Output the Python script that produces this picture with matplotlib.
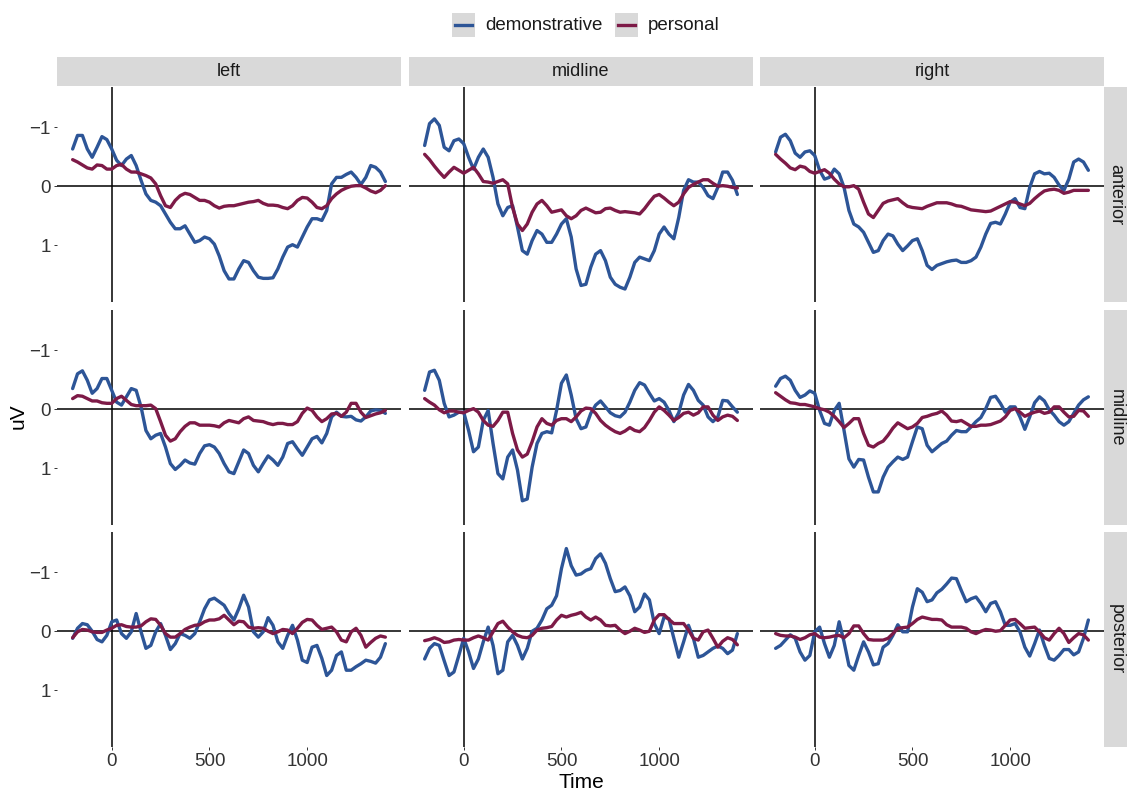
import matplotlib.pyplot as plt
import numpy as np
from matplotlib.patches import Rectangle
from matplotlib.lines import Line2D

plt.rcParams['font.family'] = ['Liberation Sans', 'DejaVu Sans']

# sample times (ms) shared by every waveform
time = np.arange(-200, 1425, 25)

sites = ['left', 'midline', 'right']
regions = ['anterior', 'midline', 'posterior']
conditions = ['demonstrative', 'personal']

# ---- waveforms (uV), one list per site x region x condition ----
dem_left_anterior = [
    -0.63, -0.86, -0.86, -0.63, -0.49, -0.66, -0.84, -0.79, -0.63, -0.44, -0.35, -0.46, -0.52,
    -0.35, -0.10, 0.13, 0.24, 0.27, 0.33, 0.47, 0.61, 0.72, 0.72, 0.67, 0.81, 0.95,
    0.92, 0.86, 0.89, 0.98, 1.18, 1.43, 1.57, 1.57, 1.40, 1.26, 1.29, 1.43, 1.54,
    1.56, 1.56, 1.55, 1.40, 1.20, 1.03, 0.99, 1.03, 0.86, 0.69, 0.55, 0.55, 0.58,
    0.41, -0.04, -0.15, -0.15, -0.20, -0.24, -0.15, -0.03, -0.15, -0.35, -0.32, -0.24, -0.08]
per_left_anterior = [
    -0.45, -0.41, -0.36, -0.31, -0.29, -0.36, -0.35, -0.29, -0.29, -0.35, -0.37, -0.29, -0.24,
    -0.24, -0.21, -0.18, -0.14, -0.04, 0.16, 0.33, 0.36, 0.24, 0.16, 0.12, 0.14, 0.19,
    0.24, 0.24, 0.27, 0.33, 0.37, 0.34, 0.33, 0.33, 0.31, 0.29, 0.27, 0.26, 0.24,
    0.29, 0.32, 0.32, 0.33, 0.36, 0.38, 0.33, 0.24, 0.19, 0.20, 0.27, 0.36, 0.38,
    0.33, 0.21, 0.13, 0.07, 0.03, 0.00, -0.01, -0.01, 0.03, 0.08, 0.11, 0.07, -0.01]

dem_midline_anterior = [
    -0.69, -1.06, -1.14, -1.03, -0.66, -0.60, -0.77, -0.80, -0.72, -0.49, -0.29, -0.49, -0.63,
    -0.49, -0.15, 0.30, 0.50, 0.36, 0.33, 0.69, 1.09, 1.15, 0.92, 0.75, 0.81, 0.95,
    0.95, 0.81, 0.64, 0.55, 0.86, 1.40, 1.68, 1.66, 1.37, 1.15, 1.09, 1.26, 1.54,
    1.66, 1.71, 1.74, 1.54, 1.29, 1.20, 1.23, 1.26, 1.09, 0.81, 0.69, 0.81, 0.89,
    0.53, 0.07, -0.11, -0.07, -0.07, 0.02, 0.16, 0.21, 0.02, -0.24, -0.24, -0.10, 0.14]
per_midline_anterior = [
    -0.54, -0.45, -0.34, -0.24, -0.15, -0.24, -0.32, -0.27, -0.22, -0.27, -0.32, -0.21, -0.08,
    -0.07, -0.05, -0.08, -0.11, -0.04, 0.36, 0.64, 0.75, 0.64, 0.44, 0.30, 0.24, 0.33,
    0.44, 0.42, 0.40, 0.50, 0.55, 0.50, 0.41, 0.37, 0.41, 0.45, 0.44, 0.38, 0.37,
    0.41, 0.44, 0.43, 0.44, 0.45, 0.47, 0.38, 0.27, 0.17, 0.14, 0.20, 0.27, 0.33,
    0.27, 0.13, 0.02, -0.03, -0.07, -0.11, -0.11, -0.05, 0.00, -0.01, 0.00, 0.02, 0.03]

dem_right_anterior = [
    -0.58, -0.83, -0.88, -0.77, -0.56, -0.49, -0.58, -0.60, -0.52, -0.27, -0.12, -0.15, -0.29,
    -0.21, 0.02, 0.41, 0.64, 0.69, 0.78, 0.95, 1.12, 1.09, 0.92, 0.81, 0.84, 0.98,
    1.09, 1.01, 0.92, 0.89, 1.09, 1.34, 1.41, 1.34, 1.31, 1.28, 1.26, 1.25, 1.29,
    1.29, 1.26, 1.20, 1.03, 0.81, 0.63, 0.61, 0.64, 0.47, 0.27, 0.21, 0.36, 0.38,
    0.02, -0.21, -0.25, -0.21, -0.22, -0.15, -0.02, 0.07, -0.12, -0.41, -0.46, -0.41, -0.27]
per_right_anterior = [
    -0.54, -0.46, -0.39, -0.31, -0.28, -0.34, -0.32, -0.25, -0.22, -0.25, -0.28, -0.22, -0.12,
    -0.04, 0.01, 0.01, -0.01, 0.05, 0.27, 0.47, 0.53, 0.41, 0.29, 0.25, 0.23, 0.21,
    0.28, 0.34, 0.36, 0.37, 0.38, 0.34, 0.31, 0.28, 0.28, 0.28, 0.30, 0.33, 0.34,
    0.37, 0.40, 0.41, 0.42, 0.43, 0.42, 0.38, 0.34, 0.30, 0.26, 0.27, 0.30, 0.33,
    0.29, 0.21, 0.14, 0.08, 0.06, 0.05, 0.07, 0.12, 0.10, 0.07, 0.07, 0.07, 0.07]

dem_left_midline = [
    -0.35, -0.60, -0.65, -0.49, -0.27, -0.35, -0.52, -0.52, -0.32, -0.12, -0.07, -0.21, -0.35,
    -0.32, -0.04, 0.36, 0.50, 0.44, 0.41, 0.64, 0.92, 1.02, 0.95, 0.86, 0.91, 0.93,
    0.75, 0.62, 0.60, 0.64, 0.75, 0.92, 1.06, 1.09, 0.89, 0.69, 0.75, 0.95, 1.06,
    0.92, 0.79, 0.86, 0.95, 0.81, 0.58, 0.55, 0.67, 0.78, 0.64, 0.50, 0.46, 0.57,
    0.41, 0.13, 0.05, 0.12, 0.13, 0.12, 0.18, 0.20, 0.13, 0.03, 0.01, 0.02, 0.07]
per_left_midline = [
    -0.18, -0.23, -0.22, -0.18, -0.14, -0.14, -0.11, -0.10, -0.10, -0.18, -0.22, -0.15, -0.08,
    -0.06, -0.06, -0.06, -0.07, -0.01, 0.21, 0.44, 0.54, 0.50, 0.38, 0.29, 0.23, 0.23,
    0.27, 0.27, 0.27, 0.28, 0.30, 0.23, 0.19, 0.21, 0.23, 0.16, 0.13, 0.19, 0.20,
    0.21, 0.24, 0.26, 0.24, 0.24, 0.26, 0.26, 0.21, 0.07, -0.02, 0.02, 0.13, 0.21,
    0.16, 0.08, 0.07, 0.12, 0.05, -0.10, -0.10, 0.05, 0.14, 0.11, 0.08, 0.06, 0.02]

dem_midline_midline = [
    -0.32, -0.63, -0.66, -0.49, -0.10, 0.13, 0.10, 0.05, 0.05, 0.36, 0.72, 0.64, 0.19,
    0.02, 0.58, 1.09, 1.18, 0.81, 0.69, 1.03, 1.55, 1.52, 0.98, 0.58, 0.41, 0.38,
    0.40, 0.02, -0.44, -0.58, -0.24, 0.16, 0.33, 0.30, 0.07, -0.07, -0.14, -0.04, 0.06,
    0.11, 0.13, 0.05, -0.12, -0.32, -0.45, -0.41, -0.27, -0.14, -0.18, -0.12, 0.02, 0.21,
    0.06, -0.24, -0.42, -0.32, -0.15, -0.07, 0.13, 0.21, 0.13, -0.15, -0.14, -0.04, 0.05]
per_midline_midline = [
    -0.18, -0.12, -0.07, 0.01, 0.06, 0.03, 0.03, 0.05, 0.06, 0.02, -0.01, 0.05, 0.19,
    0.27, 0.29, 0.19, 0.05, 0.05, 0.41, 0.69, 0.81, 0.76, 0.55, 0.30, 0.16, 0.24,
    0.27, 0.19, 0.16, 0.16, 0.21, 0.13, 0.03, -0.02, -0.01, 0.07, 0.19, 0.27, 0.33,
    0.38, 0.41, 0.37, 0.31, 0.36, 0.38, 0.31, 0.19, 0.05, -0.04, 0.02, 0.10, 0.19,
    0.14, 0.07, 0.05, 0.10, 0.06, -0.04, -0.04, 0.10, 0.19, 0.13, 0.10, 0.12, 0.19]

dem_right_midline = [
    -0.39, -0.52, -0.56, -0.49, -0.32, -0.20, -0.24, -0.31, -0.27, 0.02, 0.24, 0.27, 0.02,
    -0.10, 0.36, 0.84, 0.98, 0.85, 0.86, 1.15, 1.40, 1.40, 1.15, 0.98, 0.89, 0.81,
    0.85, 0.81, 0.55, 0.30, 0.33, 0.61, 0.72, 0.65, 0.58, 0.54, 0.44, 0.36, 0.38,
    0.38, 0.30, 0.21, 0.14, -0.01, -0.20, -0.22, -0.10, 0.05, -0.04, -0.04, 0.13, 0.34,
    0.13, -0.11, -0.21, -0.14, 0.01, 0.10, 0.21, 0.27, 0.21, 0.07, -0.07, -0.16, -0.21]
per_right_midline = [
    -0.28, -0.22, -0.16, -0.11, -0.10, -0.08, -0.08, -0.06, -0.04, -0.01, 0.01, 0.05, 0.12,
    0.21, 0.31, 0.24, 0.16, 0.16, 0.41, 0.61, 0.64, 0.58, 0.54, 0.44, 0.32, 0.23,
    0.28, 0.33, 0.30, 0.24, 0.14, 0.12, 0.09, 0.07, 0.03, 0.10, 0.20, 0.21, 0.19,
    0.24, 0.29, 0.29, 0.27, 0.27, 0.26, 0.23, 0.20, 0.13, 0.02, -0.01, 0.05, 0.12,
    0.08, 0.05, 0.03, 0.07, 0.05, -0.04, -0.04, 0.05, 0.13, 0.12, 0.02, 0.03, 0.12]

dem_left_posterior = [
    0.12, -0.05, -0.13, -0.11, 0.00, 0.14, 0.18, 0.07, -0.16, -0.19, 0.04, 0.12, 0.01,
    -0.30, 0.01, 0.29, 0.24, 0.01, -0.13, 0.07, 0.31, 0.21, 0.04, 0.07, 0.12, 0.04,
    -0.16, -0.38, -0.53, -0.56, -0.50, -0.44, -0.30, -0.19, -0.38, -0.61, -0.41, 0.01, 0.10,
    0.01, -0.23, -0.10, 0.18, 0.29, 0.07, -0.10, 0.15, 0.49, 0.53, 0.27, 0.24, 0.46,
    0.75, 0.66, 0.41, 0.35, 0.66, 0.66, 0.60, 0.55, 0.49, 0.51, 0.54, 0.44, 0.21]
per_left_posterior = [
    0.11, 0.01, -0.03, -0.02, 0.01, 0.02, 0.02, -0.02, -0.05, -0.10, -0.11, -0.08, -0.07,
    -0.07, -0.09, -0.16, -0.21, -0.20, -0.10, 0.04, 0.10, 0.10, 0.04, -0.03, -0.07, -0.10,
    -0.11, -0.16, -0.19, -0.19, -0.21, -0.27, -0.19, -0.11, -0.17, -0.16, -0.07, -0.05, -0.06,
    -0.05, 0.00, 0.04, 0.01, -0.03, -0.02, 0.04, -0.05, -0.15, -0.20, -0.19, -0.10, -0.03,
    -0.05, -0.07, 0.01, 0.15, 0.18, 0.01, -0.05, 0.07, 0.27, 0.19, 0.12, 0.08, 0.10]

dem_midline_posterior = [
    0.47, 0.29, 0.21, 0.24, 0.50, 0.75, 0.69, 0.41, 0.12, 0.35, 0.63, 0.47, 0.18,
    -0.07, 0.24, 0.72, 0.66, 0.18, 0.07, 0.24, 0.47, 0.29, 0.00, -0.05, -0.19, -0.38,
    -0.44, -0.60, -1.06, -1.40, -1.11, -0.95, -0.97, -1.03, -1.06, -1.23, -1.31, -1.15, -0.89,
    -0.67, -0.69, -0.75, -0.60, -0.33, -0.41, -0.63, -0.53, -0.13, 0.04, -0.24, -0.21, 0.12,
    0.44, 0.18, -0.10, 0.12, 0.44, 0.41, 0.35, 0.29, 0.25, 0.29, 0.38, 0.32, 0.04]
per_midline_posterior = [
    0.16, 0.14, 0.11, 0.14, 0.19, 0.18, 0.15, 0.14, 0.15, 0.15, 0.11, 0.08, 0.11,
    0.15, 0.01, -0.13, -0.17, -0.07, 0.01, 0.07, 0.10, 0.11, 0.07, -0.02, -0.05, -0.06,
    -0.08, -0.19, -0.27, -0.24, -0.27, -0.29, -0.32, -0.24, -0.19, -0.24, -0.19, -0.10, -0.09,
    -0.10, -0.02, 0.04, 0.00, -0.05, -0.02, 0.02, 0.00, -0.19, -0.28, -0.28, -0.20, -0.13,
    -0.13, -0.13, -0.02, 0.12, 0.15, 0.01, -0.02, 0.12, 0.27, 0.17, 0.11, 0.14, 0.23]

dem_right_posterior = [
    0.29, 0.24, 0.15, 0.06, 0.12, 0.35, 0.49, 0.41, 0.01, -0.07, 0.21, 0.44, 0.24,
    -0.16, 0.18, 0.58, 0.66, 0.41, 0.18, 0.35, 0.57, 0.55, 0.27, 0.21, 0.07, -0.11,
    0.01, 0.01, -0.41, -0.72, -0.66, -0.50, -0.53, -0.65, -0.71, -0.80, -0.90, -0.89, -0.69,
    -0.50, -0.55, -0.58, -0.47, -0.33, -0.47, -0.50, -0.33, -0.10, -0.10, -0.13, 0.01, 0.27,
    0.42, 0.21, -0.02, 0.24, 0.46, 0.49, 0.41, 0.31, 0.31, 0.40, 0.35, 0.12, -0.19]
per_right_posterior = [
    0.04, 0.07, 0.08, 0.08, 0.10, 0.14, 0.11, 0.06, 0.04, 0.10, 0.11, 0.10, 0.08,
    0.07, 0.11, 0.04, -0.09, -0.09, 0.04, 0.14, 0.15, 0.15, 0.15, 0.12, 0.04, -0.05,
    -0.06, -0.07, -0.13, -0.20, -0.24, -0.22, -0.20, -0.20, -0.19, -0.11, -0.07, -0.07, -0.07,
    -0.05, 0.01, 0.04, 0.00, -0.03, -0.02, 0.00, -0.01, -0.10, -0.19, -0.20, -0.13, -0.05,
    -0.06, -0.07, 0.01, 0.11, 0.15, 0.04, -0.05, 0.04, 0.19, 0.11, 0.04, 0.06, 0.15]

waves = {
    ('left', 'anterior'): (dem_left_anterior, per_left_anterior),
    ('midline', 'anterior'): (dem_midline_anterior, per_midline_anterior),
    ('right', 'anterior'): (dem_right_anterior, per_right_anterior),
    ('left', 'midline'): (dem_left_midline, per_left_midline),
    ('midline', 'midline'): (dem_midline_midline, per_midline_midline),
    ('right', 'midline'): (dem_right_midline, per_right_midline),
    ('left', 'posterior'): (dem_left_posterior, per_left_posterior),
    ('midline', 'posterior'): (dem_midline_posterior, per_midline_posterior),
    ('right', 'posterior'): (dem_right_posterior, per_right_posterior),
}

colors = ['#2D5597', '#7D1A47']
strip_grey = '#D9D9D9'
text_col = '#1A1A1A'
tick_col = '#333333'

W, H = 1127, 792
fig = plt.figure(figsize=(W / 100, H / 100), dpi=100)

col_left = [57, 409, 760]
row_top = [87, 310, 532]
pw, ph = 344, 215


def fx(px):
    return px / W


def fy(py):
    return 1 - py / H


for r, region in enumerate(regions):
    for c, site in enumerate(sites):
        ax = fig.add_axes([fx(col_left[c]), fy(row_top[r] + ph), pw / W, ph / H])
        ax.axhline(0, color='black', lw=1.1, zorder=1)
        ax.axvline(0, color='black', lw=1.1, zorder=1)
        dem, per = waves[(site, region)]
        ax.plot(time, dem, color=colors[0], lw=2.4, zorder=3,
                solid_joinstyle='round', solid_capstyle='round')
        ax.plot(time, per, color=colors[1], lw=2.4, zorder=3,
                solid_joinstyle='round', solid_capstyle='round')
        ax.set_xlim(-280, 1480)
        ax.set_ylim(1.96, -1.68)
        for s in ax.spines.values():
            s.set_visible(False)
        ax.set_yticks([-1, 0, 1])
        ax.set_xticks([0, 500, 1000])
        ax.tick_params(length=2.5, width=0.7, color=tick_col, labelcolor=tick_col,
                       labelsize=13.5, pad=2)
        if c == 0:
            ax.set_yticklabels(['\u22121', '0', '1'])
        else:
            ax.tick_params(axis='y', length=0, labelleft=False)
        if r == 2:
            ax.set_xticklabels(['0', '500', '1000'])
        else:
            ax.tick_params(axis='x', length=0, labelbottom=False)

        # column strip on top row
        if r == 0:
            fig.patches.append(Rectangle((fx(col_left[c]), fy(row_top[0] - 1)), pw / W, 29 / H,
                                         transform=fig.transFigure, facecolor=strip_grey,
                                         edgecolor='none'))
            fig.text(fx(col_left[c] + pw / 2), fy(row_top[0] - 15), site, ha='center',
                     va='center', fontsize=13, color=text_col)
        # row strip on right column
        if c == 2:
            fig.patches.append(Rectangle((fx(1104), fy(row_top[r] + ph)), 23 / W, ph / H,
                                         transform=fig.transFigure, facecolor=strip_grey,
                                         edgecolor='none'))
            fig.text(fx(1116), fy(row_top[r] + ph / 2), region, ha='center', va='center',
                     rotation=-90, fontsize=13, color=text_col)

# axis titles
fig.text(fx(581), fy(783), 'Time', ha='center', va='center', fontsize=15, color='black')
fig.text(fx(18), fy(416), 'uV', ha='center', va='center', rotation=90, fontsize=15,
         color='black')

# legend with grey key boxes
key_x = [452, 615]
for i, name in enumerate(conditions):
    fig.patches.append(Rectangle((fx(key_x[i]), fy(37)), 23 / W, 24 / H,
                                 transform=fig.transFigure, facecolor=strip_grey,
                                 edgecolor='none'))
    fig.lines.append(Line2D([fx(key_x[i] + 3), fx(key_x[i] + 20)], [fy(25), fy(25)],
                            transform=fig.transFigure, color=colors[i], lw=2.4))
    fig.text(fx(key_x[i] + 33), fy(25), name, ha='left', va='center', fontsize=13.5,
             color=text_col)

fig.savefig('out.png', dpi=100)
